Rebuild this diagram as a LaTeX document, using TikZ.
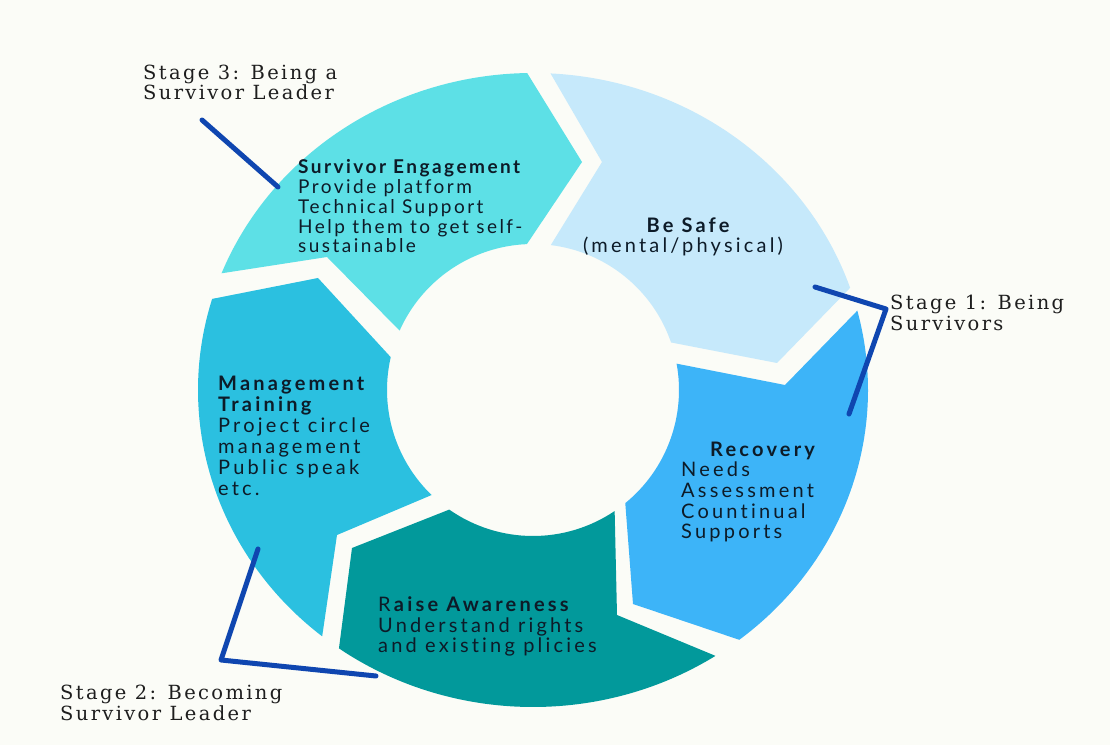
\documentclass[tikz,border=0pt]{standalone}
\usepackage{fontspec}
\setmainfont{Lato}[LetterSpace=16,Ligatures=CommonOff]
\newfontfamily\slabfont{DejaVu Serif}[LetterSpace=12,Ligatures=CommonOff]
\definecolor{bgc}{HTML}{FBFCF7}
\definecolor{cSE}{HTML}{5DE0E6}
\definecolor{cBS}{HTML}{C6E9FB}
\definecolor{cRC}{HTML}{3DB4F8}
\definecolor{cRA}{HTML}{02999B}
\definecolor{cMT}{HTML}{2BC0E0}
\definecolor{lineblue}{HTML}{0F46B0}
\definecolor{txt}{HTML}{0D1B28}
\definecolor{stagetxt}{HTML}{1E1E1E}
\begin{document}
\begin{tikzpicture}[x=1pt,y=1pt,
  body/.style={font=\fontsize{20}{21}\selectfont, text=txt, inner sep=0pt, anchor=base west},
  head/.style={body, font=\fontsize{20}{21}\selectfont\bfseries},
  sebody/.style={body, font=\fontsize{19}{20}\selectfont\addfontfeatures{LetterSpace=13}},
  sehead/.style={body, font=\fontsize{19}{20}\selectfont\addfontfeatures{LetterSpace=13}\bfseries},
  stage/.style={font=\slabfont\fontsize{19.5}{21}\selectfont, text=stagetxt, inner sep=0pt, anchor=base west},
  lead/.style={draw=lineblue, line width=5pt, line cap=round, line join=round}]
\fill[bgc] (0,0) rectangle (1110,745);
\useasboundingbox (0,0) rectangle (1110,745);
% ---- ring geometry: centre (533,355), inner r 146, outer ellipse 335 x 317
\coordinate (SEti) at ({533+146*cos(156)},{355+146*sin(156)});
\coordinate (SEn)  at (327,488);
\coordinate (SEto) at ({533+335*cos(158.4)},{355+317*sin(158.4)});
\coordinate (SEt)  at (582,583);
\coordinate (SEli) at ({533+146*cos(92.4)},{355+146*sin(92.4)});

\coordinate (BSti) at ({533+146*cos(83)},{355+146*sin(83)});
\coordinate (BSn)  at (602,583);
\coordinate (BSto) at ({533+335*cos(87)},{355+317*sin(87)});
\coordinate (BSt)  at (777,382);
\coordinate (BSli) at ({533+146*cos(19)},{355+146*sin(19)});

\coordinate (RCti) at ({533+146*cos(10.4)},{355+146*sin(10.4)});
\coordinate (RCn)  at (785,360);
\coordinate (RCto) at ({533+335*cos(14.5)},{355+317*sin(14.5)});
\coordinate (RCt)  at (633,141);
\coordinate (RCli) at ({533+146*cos(-50.8)},{355+146*sin(-50.8)});

\coordinate (RAti) at ({533+146*cos(-56)},{355+146*sin(-56)});
\coordinate (RAn)  at (617,130);
\coordinate (RAto) at ({533+335*cos(-57)},{355+317*sin(-57)});
\coordinate (RAt)  at (352,197);
\coordinate (RAli) at ({533+146*cos(-125)},{355+146*sin(-125)});

\coordinate (MTti) at ({533+146*cos(-134)},{355+146*sin(-134)});
\coordinate (MTn)  at (337,210);
\coordinate (MTto) at ({533+335*cos(-129)},{355+317*sin(-129)});
\coordinate (MTt)  at (318,467);
\coordinate (MTli) at ({533+146*cos(-193)},{355+146*sin(-193)});

\fill[cSE] (SEti) -- (SEn) -- (SEto) arc[start angle=158.4,end angle=91,x radius=335pt,y radius=317pt]
  -- (SEt) -- (SEli) arc[start angle=92.4,end angle=156,radius=146pt] -- cycle;
\fill[cBS] (BSti) -- (BSn) -- (BSto) arc[start angle=87,end angle=18.8,x radius=335pt,y radius=317pt]
  -- (BSt) -- (BSli) arc[start angle=19,end angle=83,radius=146pt] -- cycle;
\fill[cRC] (RCti) -- (RCn) -- (RCto) arc[start angle=14.5,end angle=-52,x radius=335pt,y radius=317pt]
  -- (RCt) -- (RCli) arc[start angle=-50.8,end angle=10.4,radius=146pt] -- cycle;
\fill[cRA] (RAti) -- (RAn) -- (RAto) arc[start angle=-57,end angle=-125.4,x radius=335pt,y radius=317pt]
  -- (RAt) -- (RAli) arc[start angle=-125,end angle=-56,radius=146pt] -- cycle;
\fill[cMT] (MTti) -- (MTn) -- (MTto) arc[start angle=-129,end angle=-196.7,x radius=335pt,y radius=317pt]
  -- (MTt) -- (MTli) arc[start angle=-193,end angle=-134,radius=146pt] -- cycle;

% ---- leader lines
\coordinate (L3a) at (202,625); \coordinate (L3b) at (278,558);
\coordinate (L1a) at (815,458); \coordinate (L1b) at (886,436); \coordinate (L1c) at (849,331);
\coordinate (L2a) at (258,196); \coordinate (L2b) at (221,85);  \coordinate (L2c) at (376,69);
\draw[lead] (L3a) -- (L3b);
\draw[lead] (L1a) -- (L1b) -- (L1c);
\draw[lead] (L2a) -- (L2b) -- (L2c);

% ---- segment texts
\node[sehead] (seh) at (298,571) {Survivor Engagement};
\foreach \s [count=\i] in {Provide platform,Technical Support,Help them to get self-,sustainable}
  \node[sebody] (se\i) at (298,{571-\i*19.7}) {\s};

\node[head, anchor=base] (bsh) at (688,512) {Be Safe};
\node[body, anchor=base] (bs1) at (683,492) {(mental/physical)};

\node[head] (rch) at (710,289) {Recovery};
\foreach \s [count=\i] in {Needs,Assessment,Countinual,Supports}
  \node[body] (rc\i) at (681,{289-\i*20.7}) {\s};

\node[head] (mth1) at (218,355) {Management};
\node[head] (mth2) at (218,334) {Training};
\foreach \s [count=\i] in {Project circle,management,Public speak,etc.}
  \node[body] (mt\i) at (218,{334-\i*21}) {\s};

\node[body] (rah) at (378,134) {R\textbf{aise Awareness}};
\node[body] (ra1) at (378,113) {Understand rights};
\node[body] (ra2) at (378,93) {and existing plicies};

% ---- stage labels
\node[stage] (s3a) at (143,665) {Stage 3: Being a};
\node[stage] (s3b) at (143,645) {Survivor Leader};
\node[stage] (s1a) at (890,435) {Stage 1: Being};
\node[stage] (s1b) at (890,414) {Survivors};
\node[stage] (s2a) at (60,46) {Stage 2: Becoming};
\node[stage] (s2b) at (60,25) {Survivor Leader};
\end{tikzpicture}
\end{document}
